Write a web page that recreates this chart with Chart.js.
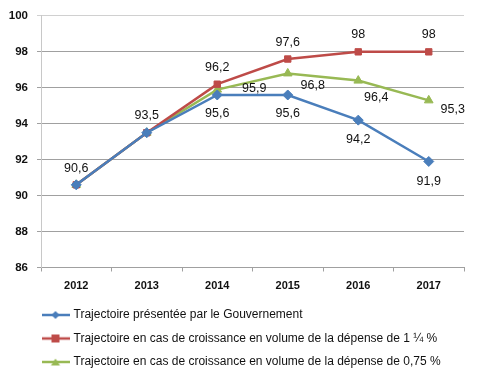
<!DOCTYPE html>
<html>
<head>
<meta charset="utf-8">
<script src="https://cdn.jsdelivr.net/npm/chart.js@4.4.1/dist/chart.umd.min.js"></script>
<style>
html,body{margin:0;padding:0;background:#fff;}
#wrap{width:480px;height:381px;position:relative;}
</style>
</head>
<body>
<div id="wrap"><canvas id="c" width="480" height="381"></canvas></div>
<script>
// ---- data ----
const categories = ['2012', '2013', '2014', '2015', '2016', '2017'];
const seriesNames = [
  'Trajectoire présentée par le Gouvernement',
  'Trajectoire en cas de croissance en volume de la dépense de 1 ¼ %',
  'Trajectoire en cas de croissance en volume de la dépense de 0,75 %'
];
const gouvernement = [90.6, 93.5, 95.6, 95.6, 94.2, 91.9];
const croissance125 = [90.6, 93.5, 96.2, 97.6, 98, 98];
const croissance075 = [90.6, 93.5, 95.9, 96.8, 96.4, 95.3];
const yTicks = [86, 88, 90, 92, 94, 96, 98, 100];

// ---- styles ----
const colors = ['#4A7EBB', '#BE4B48', '#98B954'];
const markers = ['rectRot', 'rect', 'triangle'];
const markerRadius = [5, 4.5, 5];
// label placement per series per point: null = hidden, [dx, dy] offsets of label centre
const labelPlacement = [
  [[0, -16], [0, -17], [0, 19], [0, 19], [0, 19], [0, 20]],
  [null, null, [0, -17], [0, -16], [0, -17], [0, -17]],
  [null, null, [37, -1], [25, 12], [18, 17], [24, 9]]
];

function legendIcon(i) {
  const cv = document.createElement('canvas');
  cv.width = 28; cv.height = 12;
  const c = cv.getContext('2d');
  c.strokeStyle = colors[i]; c.lineWidth = 2.5;
  c.beginPath(); c.moveTo(0, 6); c.lineTo(28, 6); c.stroke();
  c.fillStyle = colors[i];
  c.beginPath();
  if (i === 0) { c.moveTo(14, 2); c.lineTo(18, 6); c.lineTo(14, 10); c.lineTo(10, 6); c.closePath(); }
  else if (i === 1) { c.rect(10, 2, 8, 8); }
  else { c.moveTo(14, 2.5); c.lineTo(18.5, 9.5); c.lineTo(9.5, 9.5); c.closePath(); }
  c.fill();
  return cv;
}
const icons = [0, 1, 2].map(legendIcon);

const fmt = v => String(v).replace('.', ',');

const dataLabelPlugin = {
  id: 'dataLabels',
  afterDatasetsDraw(chart) {
    const ctx = chart.ctx;
    ctx.save();
    ctx.font = '12.5px "Liberation Sans", Arial, sans-serif';
    ctx.fillStyle = '#111';
    ctx.textAlign = 'center';
    ctx.textBaseline = 'middle';
    chart.data.datasets.forEach((ds, di) => {
      const meta = chart.getDatasetMeta(di);
      meta.data.forEach((pt, i) => {
        const pl = labelPlacement[di][i];
        if (!pl) return;
        ctx.fillText(fmt(ds.data[i]), pt.x + pl[0], pt.y + pl[1]);
      });
    });
    ctx.restore();
  }
};

const legendShift = {
  id: 'legendShift',
  afterLayout(chart) {
    if (chart.legend) { chart.legend.left = 32; }
  }
};

const datasets = [gouvernement, croissance125, croissance075].map((d, i) => ({
  label: seriesNames[i],
  data: d,
  borderColor: colors[i],
  backgroundColor: colors[i],
  borderWidth: 2.5,
  pointStyle: markers[i],
  pointRadius: markerRadius[i],
  pointHoverRadius: markerRadius[i],
  pointBorderWidth: 1,
  pointBorderColor: colors[i],
  pointBackgroundColor: colors[i],
  tension: 0,
  fill: false
}));

new Chart(document.getElementById('c'), {
  type: 'line',
  data: { labels: categories, datasets: datasets },
  options: {
    responsive: false,
    animation: false,
    devicePixelRatio: 1,
    layout: { padding: { left: 0, right: 16, top: 15, bottom: 3 } },
    plugins: {
      tooltip: { enabled: false },
      legend: {
        position: 'bottom',
        align: 'start',
        labels: {
          usePointStyle: true,
          pointStyleWidth: 24,
          padding: 11.5,
          color: '#111',
          font: { size: 12, family: '"Liberation Sans", Arial, sans-serif' },
          generateLabels(chart) {
            return chart.data.datasets.map((ds, i) => ({
              text: ds.label,
              pointStyle: icons[i],
              fillStyle: colors[i],
              strokeStyle: colors[i],
              lineWidth: 0,
              hidden: false,
              datasetIndex: i,
              fontColor: '#111'
            }));
          }
        }
      }
    },
    scales: {
      x: {
        offset: true,
        afterFit(s) { s.height = 30; },
        grid: {
          offset: true,
          drawOnChartArea: false,
          drawTicks: true,
          tickLength: 4,
          color: '#a0a0a0'
        },
        border: { display: true, color: '#a0a0a0', width: 1 },
        ticks: {
          padding: 8,
          color: '#111',
          font: { size: 11, weight: 'bold', family: '"Liberation Sans", Arial, sans-serif' }
        }
      },
      y: {
        min: 86,
        max: 100,
        afterFit(s) { s.width = 41; },
        afterBuildTicks(s) { s.ticks = yTicks.map(v => ({ value: v })); },
        grid: {
          color: ctx => (ctx.tick && ctx.tick.value === 100) ? '#d0d0d0' : '#a0a0a0',
          drawTicks: true,
          tickLength: 4,
          lineWidth: 1
        },
        border: { display: true, color: '#c8c8c8', width: 1 },
        ticks: {
          padding: 9,
          color: '#111',
          font: { size: 11.5, weight: 'bold', family: '"Liberation Sans", Arial, sans-serif' },
          callback: v => String(v)
        }
      }
    }
  },
  plugins: [dataLabelPlugin, legendShift]
});
</script>
</body>
</html>
